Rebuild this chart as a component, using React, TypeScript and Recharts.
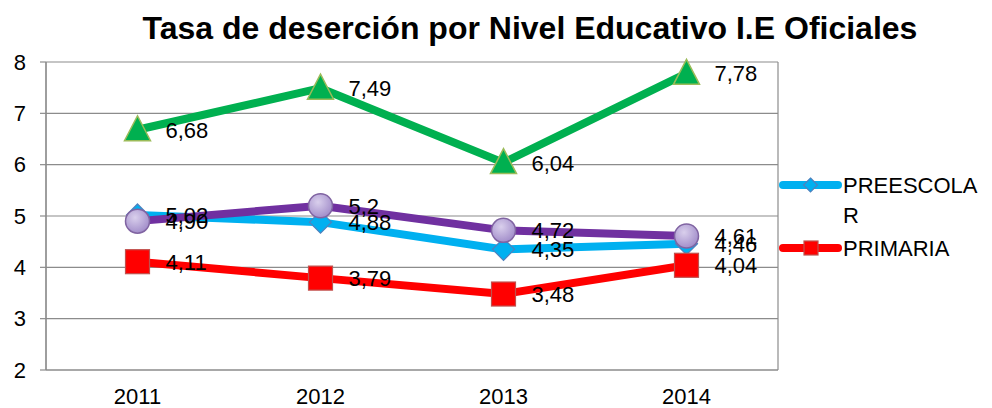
import { LineChart, Line, XAxis, YAxis, CartesianGrid, LabelList } from 'recharts'

const years = ['2011', '2012', '2013', '2014']
const preescolar = [5.02, 4.88, 4.35, 4.46]
const primaria = [4.11, 3.79, 3.48, 4.04]
const secundaria = [6.68, 7.49, 6.04, 7.78]
const media = [4.9, 5.2, 4.72, 4.61]
const mediaLabels = ['4,90', '5,2', '4,72', '4,61']
const yTicks = [2, 3, 4, 5, 6, 7, 8]

const data = years.map((year, i) => ({
  year,
  preescolar: preescolar[i],
  primaria: primaria[i],
  secundaria: secundaria[i],
  media: media[i],
  mediaLabel: mediaLabels[i],
}))

const FONT = '"Liberation Sans", Arial, sans-serif'
const GRID = '#8c8c8c'

const fmt = (v: number) => v.toFixed(2).replace('.', ',')

const Diamond = (props: any) => {
  const { cx, cy } = props
  if (cx == null || cy == null) return null
  const r = 11
  return (
    <path
      d={`M${cx},${cy - r} L${cx + r},${cy} L${cx},${cy + r} L${cx - r},${cy} Z`}
      fill="#00B0F0"
      stroke="#4F81BD"
      strokeWidth={1.2}
    />
  )
}

const Square = (props: any) => {
  const { cx, cy } = props
  if (cx == null || cy == null) return null
  const s = 12
  return <rect x={cx - s} y={cy - s} width={s * 2} height={s * 2} fill="#FF0000" stroke="#C0504D" strokeWidth={1.2} />
}

const Triangle = (props: any) => {
  const { cx, cy } = props
  if (cx == null || cy == null) return null
  return (
    <path
      d={`M${cx},${cy - 14} L${cx + 13},${cy + 11} L${cx - 13},${cy + 11} Z`}
      fill="#00B050"
      stroke="#9BBB59"
      strokeWidth={1.5}
    />
  )
}

const Circle = (props: any) => {
  const { cx, cy } = props
  if (cx == null || cy == null) return null
  return <circle cx={cx} cy={cy} r={12} fill="url(#lav)" stroke="#8064A2" strokeWidth={1.5} />
}

const PointLabel = (props: any) => {
  const { x, y, value } = props
  return (
    <text x={x + 28} y={y} dy="0.36em" textAnchor="start" fontSize={22} fontFamily={FONT} fill="#000">
      {typeof value === 'number' ? fmt(value) : value}
    </text>
  )
}

// the legend in the source only shows the first two series (the rest is cut off)
const ChartLegend = () => (
  <svg width={210} height={110} style={{ position: 'absolute', left: 779, top: 170 }}>
    <line x1={4} y1={15} x2={59} y2={15} stroke="#00B0F0" strokeWidth={8} strokeLinecap="round" />
    <path d="M31.5,8 L38.5,15 L31.5,22 L24.5,15 Z" fill="#00B0F0" stroke="#4F81BD" strokeWidth={1.2} />
    <text x={64} y={15} dy="0.36em" fontSize={22} fontFamily={FONT} fill="#000">PREESCOLA</text>
    <text x={64} y={45} dy="0.36em" fontSize={22} fontFamily={FONT} fill="#000">R</text>
    <line x1={4} y1={78} x2={59} y2={78} stroke="#FF0000" strokeWidth={8} strokeLinecap="round" />
    <rect x={25} y={71} width={14} height={14} fill="#FF0000" stroke="#C0504D" strokeWidth={1.2} />
    <text x={64} y={78} dy="0.36em" fontSize={22} fontFamily={FONT} fill="#000">PRIMARIA</text>
  </svg>
)

export default function App() {
  return (
    <div style={{ position: 'absolute', left: 0, top: 0, width: 992, height: 408, background: '#fff' }}>
      <div
        style={{
          position: 'absolute',
          left: 0,
          top: 10,
          width: 1060,
          textAlign: 'center',
          fontFamily: FONT,
          fontWeight: 'bold',
          fontSize: 32,
          lineHeight: '36px',
          color: '#000',
        }}
      >
        Tasa de deserción por Nivel Educativo I.E Oficiales
      </div>
      <LineChart width={992} height={408} data={data} margin={{ top: 62, right: 214, bottom: 0, left: 0 }}>
        <defs>
          <radialGradient id="lav" cx="40%" cy="35%" r="70%">
            <stop offset="0%" stopColor="#D9CFEC" />
            <stop offset="100%" stopColor="#9F8AC8" />
          </radialGradient>
        </defs>
        <CartesianGrid xAxisId="grid" stroke={GRID} strokeWidth={1.2} />
        <XAxis
          xAxisId="grid"
          type="number"
          domain={[0, 4]}
          ticks={[0, 1, 2, 3, 4]}
          height={0}
          axisLine={false}
          tick={false}
          tickSize={7}
          tickLine={{ stroke: GRID, strokeWidth: 1.2 }}
        />
        <XAxis
          dataKey="year"
          height={38}
          padding={{ left: 91.5, right: 91.5 }}
          axisLine={{ stroke: GRID, strokeWidth: 1.2 }}
          tickLine={false}
          tickMargin={12}
          tick={{ fontSize: 22, fontFamily: FONT, fill: '#000' }}
        />
        <YAxis
          width={46}
          domain={[2, 8]}
          ticks={yTicks}
          interval={0}
          axisLine={{ stroke: GRID, strokeWidth: 1.2 }}
          tickLine={{ stroke: GRID, strokeWidth: 1.2 }}
          tickSize={6}
          tickMargin={14}
          tick={{ fontSize: 22, fontFamily: FONT, fill: '#000' }}
        />
        <Line dataKey="preescolar" stroke="#00B0F0" strokeWidth={8} dot={<Diamond />} activeDot={false} isAnimationActive={false}>
          <LabelList dataKey="preescolar" content={<PointLabel />} />
        </Line>
        <Line dataKey="primaria" stroke="#FF0000" strokeWidth={8} dot={<Square />} activeDot={false} isAnimationActive={false}>
          <LabelList dataKey="primaria" content={<PointLabel />} />
        </Line>
        <Line dataKey="secundaria" stroke="#00B050" strokeWidth={8} dot={<Triangle />} activeDot={false} isAnimationActive={false}>
          <LabelList dataKey="secundaria" content={<PointLabel />} />
        </Line>
        <Line dataKey="media" stroke="#7030A0" strokeWidth={8} dot={<Circle />} activeDot={false} isAnimationActive={false}>
          <LabelList dataKey="mediaLabel" content={<PointLabel />} />
        </Line>
      </LineChart>
      <ChartLegend />
    </div>
  )
}
